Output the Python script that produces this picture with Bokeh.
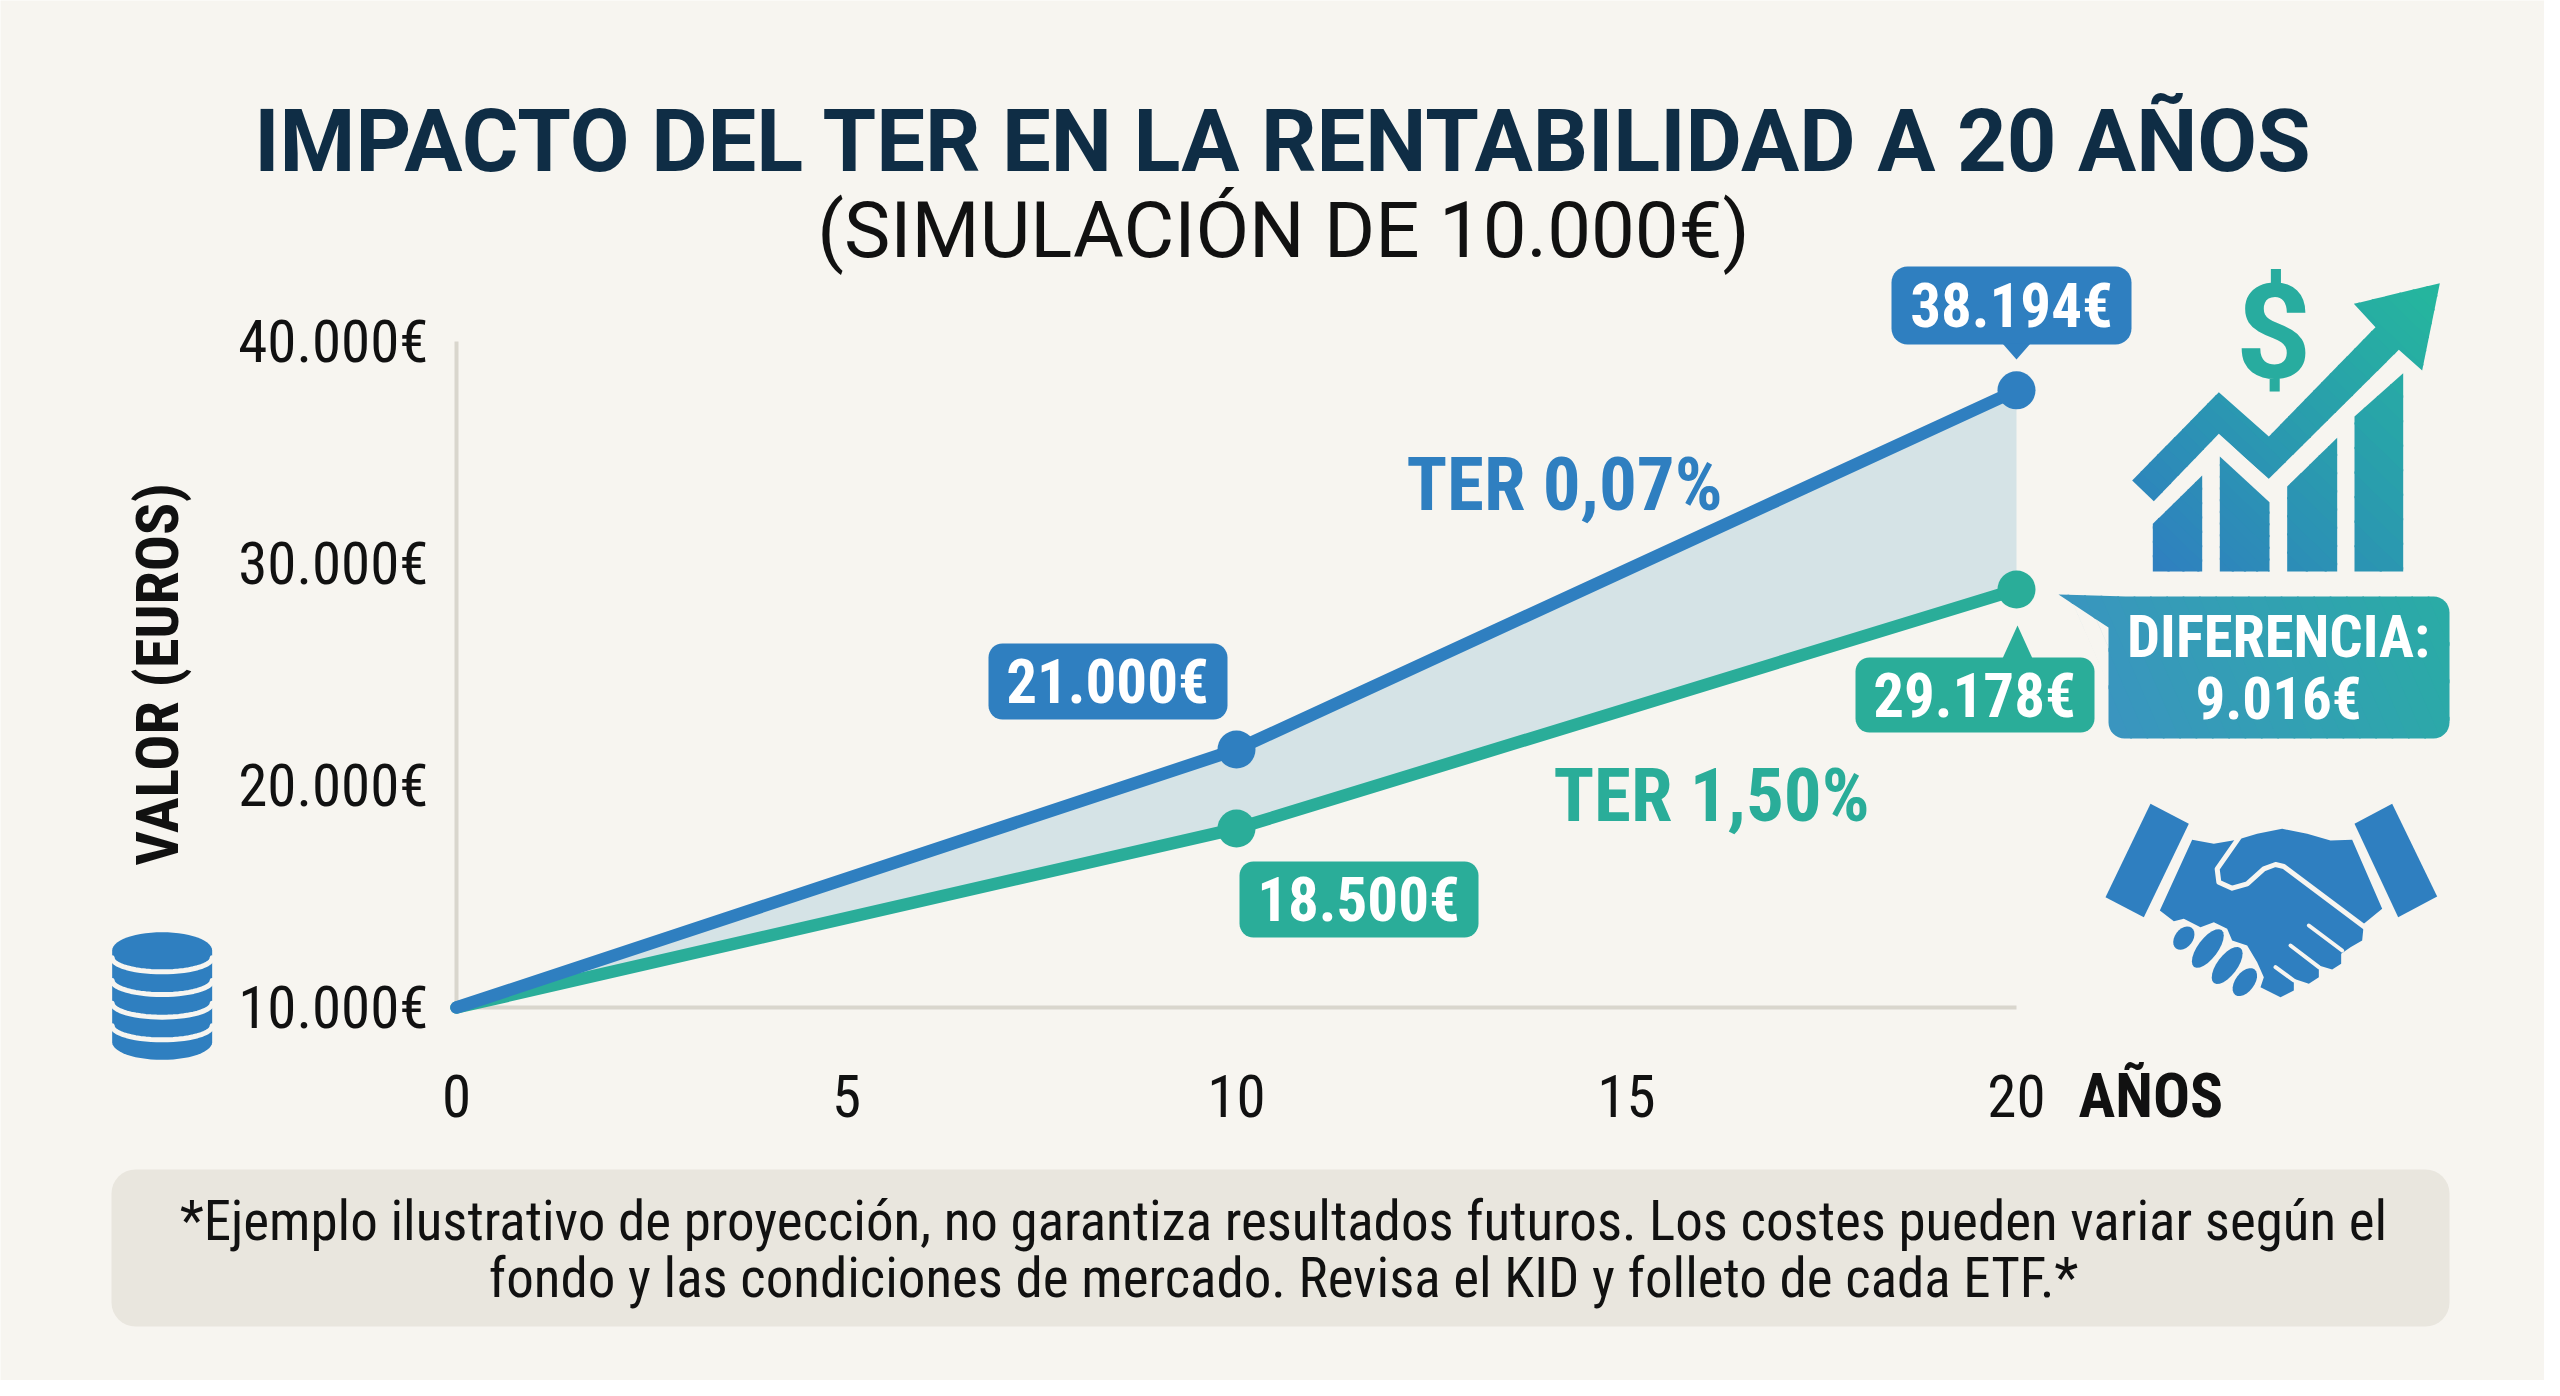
import math
from bokeh.plotting import figure
from bokeh.models import Range1d, FixedTicker, Label
from bokeh.embed import file_html
from bokeh.resources import INLINE

# ---- data ----
years = [0, 10, 20]
ter_low = [10000, 21620, 37800]
ter_high = [10000, 18060, 28830]
x_ticks = [0, 5, 10, 15, 20]
y_ticks = [10000, 20000, 30000, 40000]
y_tick_labels = ["10.000€", "20.000€", "30.000€", "40.000€"]
low_labels = ["21.000€", "38.194€"]
high_labels = ["18.500€", "29.178€"]
title = "IMPACTO DEL TER EN LA RENTABILIDAD A 20 AÑOS"
subtitle = "(SIMULACIÓN DE 10.000€)"
note = ["*Ejemplo ilustrativo de proyección, no garantiza resultados futuros. Los costes pueden variar según el",
        "fondo y las condiciones de mercado. Revisa el KID y folleto de cada ETF.*"]

BG = "#f7f5f0"; BLUE = "#2f7fc0"; TEAL = "#2aad99"; INK = "#111111"; NAVY = "#0f2d45"
NARROW = "Roboto Condensed"

W, H = 2544, 1380
OFF = 0
PX0, PX20 = 456.0, 2016.0
PY10, PY40 = 1007.0, 341.0
def X(px): return (px - PX0) / (PX20 - PX0) * 20
def Y(py): return 10000 + (PY10 - py) / (PY10 - PY40) * 30000

p = figure(width=W, height=H, output_backend="svg", toolbar_location=None,
           x_range=Range1d(X(OFF), X(OFF + W)), y_range=Range1d(Y(OFF + H), Y(OFF)),
           min_border=0, background_fill_color=BG, border_fill_color=BG)
p.outline_line_color = None
p.grid.visible = False

for ax in (p.xaxis, p.yaxis):
    ax.axis_line_color = "#d9d6cd"; ax.axis_line_width = 4
    ax.major_tick_line_color = None; ax.minor_tick_line_color = None
    ax.major_label_text_font = NARROW
    ax.major_label_text_font_size = "59px"
    ax.major_label_text_color = INK
    ax.level = "underlay"
p.xaxis.fixed_location = 10000
p.yaxis.fixed_location = 0
p.xaxis.bounds = (0, 20); p.yaxis.bounds = (10000, 40000)
p.xaxis.ticker = FixedTicker(ticks=x_ticks)
p.yaxis.ticker = FixedTicker(ticks=y_ticks)
p.yaxis.major_label_overrides = dict(zip(y_ticks, y_tick_labels))
p.xaxis.major_label_standoff = 61
p.yaxis.major_label_standoff = 22
p.yaxis.axis_label = "VALOR (EUROS)"
p.yaxis.axis_label_text_font = NARROW
p.yaxis.axis_label_text_font_style = "bold"
p.yaxis.axis_label_text_font_size = "60px"
p.yaxis.axis_label_text_color = INK
p.yaxis.axis_label_standoff = 42


def hexmix(a, b, t):
    t = max(0, min(1, t))
    ca = [int(a[i:i+2], 16) for i in (1, 3, 5)]
    cb = [int(b[i:i+2], 16) for i in (1, 3, 5)]
    return "#%02x%02x%02x" % tuple(round(u + (v - u) * t) for u, v in zip(ca, cb))

def poly(pts, color):
    p.patch([X(a) for a, _ in pts], [Y(b) for _, b in pts], fill_color=color, line_color=None)

def stroke(pts, color, width):
    p.line([X(a) for a, _ in pts], [Y(b) for _, b in pts], line_color=color, line_width=width,
           line_cap="round", line_join="round")

def clip(pts, d, limit, keep_above):
    out = []
    n = len(pts)
    for i in range(n):
        a, b = pts[i], pts[(i + 1) % n]
        ta = a[0] * d[0] + a[1] * d[1] - limit
        tb = b[0] * d[0] + b[1] * d[1] - limit
        if not keep_above:
            ta, tb = -ta, -tb
        if ta >= 0:
            out.append(a)
        if (ta >= 0) != (tb >= 0):
            s = ta / (ta - tb)
            out.append((a[0] + (b[0] - a[0]) * s, a[1] + (b[1] - a[1]) * s))
    return out

def grad_poly(pts, start, end, ca, cb, bands=24):
    """Fill a polygon with a stepped linear gradient between two pixel points."""
    dx, dy = end[0] - start[0], end[1] - start[1]
    L = math.hypot(dx, dy); d = (dx / L, dy / L)
    base = start[0] * d[0] + start[1] * d[1]
    ts = [(q[0] * d[0] + q[1] * d[1] - base) / L for q in pts]
    lo, hi = min(ts), max(ts)
    for i in range(bands):
        a = lo + (hi - lo) * i / bands
        b = lo + (hi - lo) * (i + 1) / bands + 1.5 / L
        q = clip(pts, d, base + a * L, True)
        if q:
            q = clip(q, d, base + b * L, False)
        if len(q) >= 3:
            poly(q, hexmix(ca, cb, (a + b) / 2))

def rrect(x0, y0, x1, y1, r, n=8):
    pts = []
    for cx, cy, s in ((x1 - r, y0 + r, -90), (x1 - r, y1 - r, 0), (x0 + r, y1 - r, 90), (x0 + r, y0 + r, 180)):
        for i in range(n + 1):
            a = math.radians(s + 90 * i / n)
            pts.append((cx + r * math.cos(a), cy + r * math.sin(a)))
    return pts

def text(px, py, s, size, color=INK, style="normal", font=NARROW, align="center"):
    p.add_layout(Label(x=X(px), y=Y(py), text=s, text_font=font, text_font_size=f"{size}px",
                       text_font_style=style, text_color=color, text_align=align, text_baseline="middle"))

# ---- marks ----
p.varea(years, ter_high, ter_low, fill_color="#d5e3e6")
p.line(years, ter_high, line_color=TEAL, line_width=12.5, line_cap="round", line_join="round")
p.line(years, ter_low, line_color=BLUE, line_width=12.5, line_cap="round", line_join="round")
p.scatter(years[1:], ter_low[1:], size=38, fill_color=BLUE, line_color=None)
p.scatter(years[1:], ter_high[1:], size=38, fill_color=TEAL, line_color=None)

# ---- titles ----
text(1283, 141, title, 86.7, NAVY, "bold", "Roboto")
text(1283, 230, subtitle, 78, INK, "normal", "Roboto")

# ---- value tags ----
poly(rrect(1891, 266, 2131, 344, 16), BLUE)
poly([(2002, 343), (2030, 343), (2016, 359)], BLUE)
text(2011, 305, low_labels[1], 61, "#ffffff", "bold")
poly(rrect(988, 643, 1227, 719, 14), BLUE)
text(1107, 681, low_labels[0], 61, "#ffffff", "bold")
poly(rrect(1239, 861, 1478, 937, 14), TEAL)
text(1358, 899, high_labels[0], 61, "#ffffff", "bold")
poly(rrect(1855, 657, 2094, 732, 14), TEAL)
poly([(2002, 658), (2032, 658), (2017, 625)], TEAL)
text(1974, 695, high_labels[1], 61, "#ffffff", "bold")

text(1564, 483, "TER 0,07%", 75, BLUE, "bold")
text(1711, 794, "TER 1,50%", 75, TEAL, "bold")
text(2078, 1095, "AÑOS", 61.5, INK, "bold", align="left")

# ---- difference callout ----
box = rrect(2108, 596, 2449, 738, 16)
box = [(2108, 627), (2058, 594), (2125, 596)] + box[:-9] + [(2108, 722)]
grad_poly(box, (2120, 740), (2440, 600), "#3a95bf", "#2aaba6")
text(2278, 636, "DIFERENCIA:", 58.5, "#ffffff", "bold")
text(2278, 698, "9.016€", 59, "#ffffff", "bold")

# ---- growth icon ----
def z1(pts): return [(2120 + a / 3, 270 + b / 3) for a, b in pts]
G0, G1 = (2150, 570), (2420, 290)
for bar in ([(97, 903), (97, 760), (245, 615), (245, 903)],
            [(298, 903), (298, 558), (447, 695), (447, 903)],
            [(500, 903), (500, 648), (650, 502), (650, 903)],
            [(702, 903), (702, 438), (848, 308), (848, 903)]):
    grad_poly(z1(bar), G0, G1, "#2f7fc0", "#25b59e", bands=10)
arrow = [(35, 630), (295, 365), (445, 498), (765, 170), (700, 100), (958, 38), (905, 300),
         (835, 238), (445, 625), (295, 490), (100, 692)]
grad_poly(z1(arrow), G0, G1, "#2f7fc0", "#25b59e", bands=30)
text(2273, 332, "$", 132, "#28ac9f", "bold", "Roboto")

# ---- handshake icon ----
def z3(pts): return [(2100 + a / 3, 790 + b / 3) for a, b in pts]
HB = "#2f7fc0"
poly(z3([(150, 40), (265, 100), (130, 380), (15, 320)]), HB)
poly(z3([(875, 40), (762, 100), (893, 380), (1010, 318)]), HB)
poly(z3([(178, 360), (275, 148), (340, 160), (410, 148), (470, 130), (545, 115), (620, 130), (690, 150),
         (755, 148), (845, 355), (790, 400), (785, 450), (750, 470), (722, 490), (722, 520), (695, 537),
         (655, 525), (655, 560), (625, 580), (580, 565), (580, 600), (540, 620), (480, 590), (490, 560),
         (470, 515), (440, 465), (395, 450), (380, 415), (340, 395), (300, 410), (250, 385), (220, 392)]), HB)
stroke(z3([(415, 142), (350, 235), (355, 275), (395, 293), (440, 280), (490, 235), (525, 222), (550, 228),
           (795, 412)]), BG, 5)
stroke(z3([(625, 405), (725, 480)]), BG, 4)
stroke(z3([(570, 465), (655, 530)]), BG, 4)
stroke(z3([(525, 530), (580, 570)]), BG, 4)
for cx, cy, hl, hw in ((250, 443, 13, 9), (322, 474, 23, 10), (380, 525, 22, 10), (433, 575, 16, 9.5)):
    c = z3([(cx, cy)])[0]
    e = []
    for i in range(24):
        a = 2 * math.pi * i / 24
        u, v = hl * math.cos(a), hw * math.sin(a)
        e.append((c[0] - u * 0.6 + v * 0.8, c[1] + u * 0.8 + v * 0.6))
    poly(e, HB)

# ---- coins icon ----
def z2(pts): return [(80 + a / 3, 900 + b / 3) for a, b in pts]
def arc(y, sag, n=28):
    return [(245 + 150 * math.cos(math.pi * i / n), y + sag * math.sin(math.pi * i / n)) for i in range(n + 1)]
top = [(245 - 150 * math.cos(math.pi * i / 28), 150 - 55 * math.sin(math.pi * i / 28)) for i in range(29)]
poly(z2(arc(425, 53) + top), BLUE)
for ys in (172, 240, 308, 376):
    stroke(z2(arc(ys, 42)), BG, 5)

# ---- note ----
poly(rrect(111, 1169, 2449, 1326, 24), "#e9e6de")
text(1283, 1220, note[0], 55)
text(1283, 1277, note[1], 55)

open("out.html", "w").write(file_html(p, INLINE))
